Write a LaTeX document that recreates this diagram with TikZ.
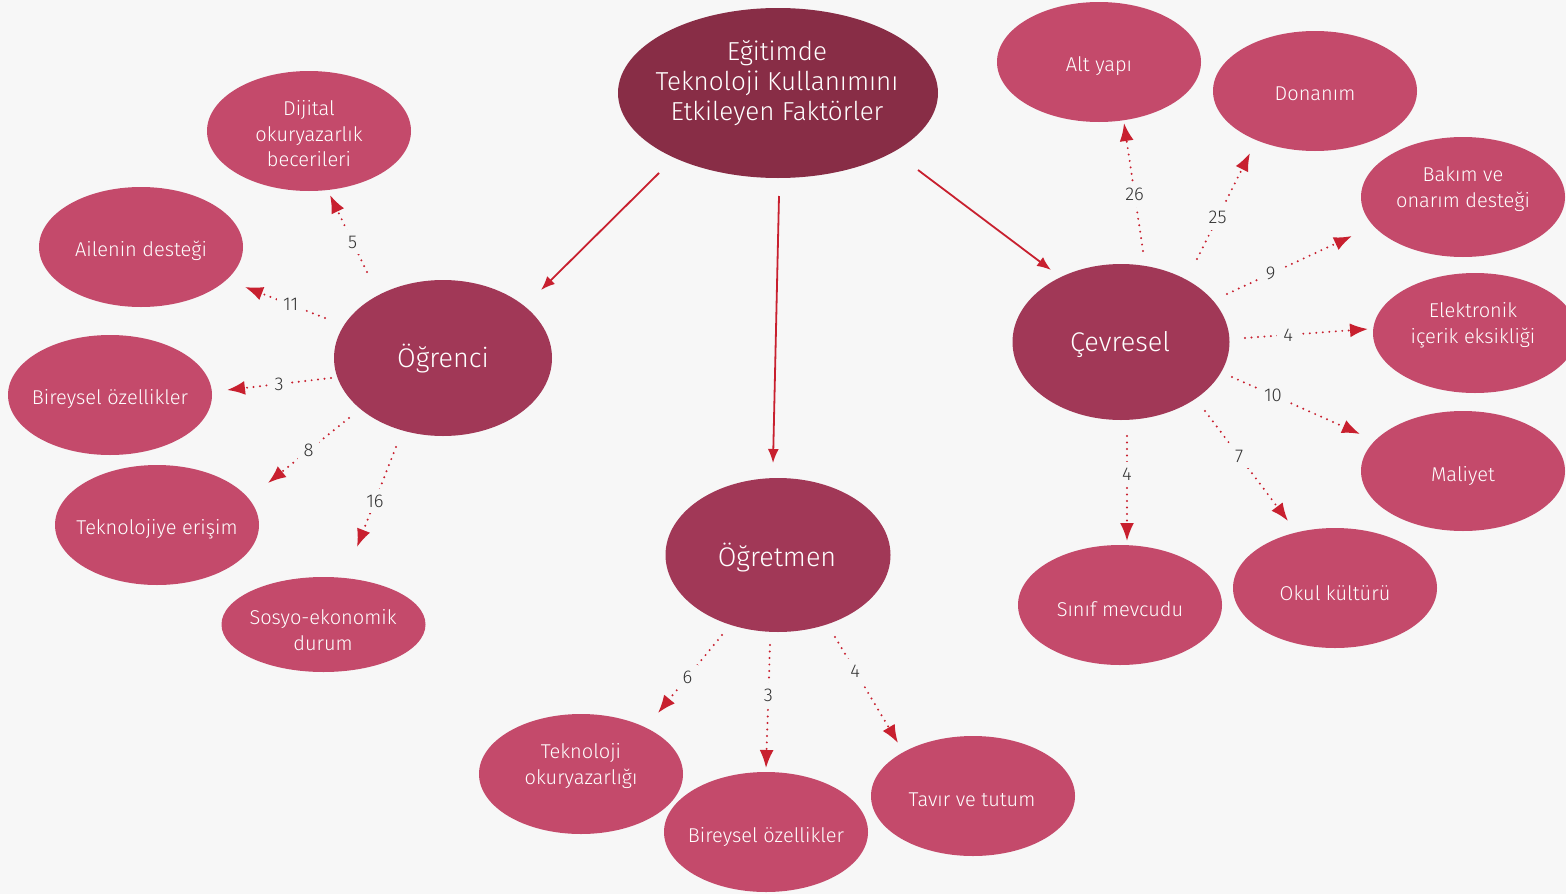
\documentclass[tikz,border=0pt]{standalone}
\usepackage{fontspec}
\setmainfont{Fira Sans Light}
\usetikzlibrary{shapes.geometric,arrows.meta}
\definecolor{bg}{HTML}{F7F7F7}
\definecolor{maincol}{HTML}{882D46}
\definecolor{midcol}{HTML}{A13857}
\definecolor{leafcol}{HTML}{C44A6B}
\definecolor{arr}{HTML}{C8202F}
\definecolor{numcol}{HTML}{333333}
\begin{document}
\begin{tikzpicture}[x=1pt,y=-1pt,
 blob/.style={ellipse, draw=none, inner sep=0pt},
 mainblob/.style={blob, fill=maincol, minimum width=320pt, minimum height=170pt},
 midblob/.style={blob, fill=midcol},
 leaf/.style={blob, fill=leafcol, minimum width=204pt, minimum height=120pt},
 txt/.style={text=white, align=center, inner sep=0pt},
 maintxt/.style={txt, font=\fontsize{26}{30}\selectfont},
 midtxt/.style={txt, font=\fontsize{27}{30}\selectfont},
 leaftxt/.style={txt, font=\fontsize{20}{25.5}\selectfont},
 solidarrow/.style={draw=arr, line width=1.8pt, -{Latex[length=14pt,width=11pt]}},
 dotarrow/.style={draw=arr, line width=2.2pt, line cap=round, dash pattern=on 0pt off 6.5pt, -{Latex[length=18pt,width=14pt]}},
 num/.style={fill=bg, text=numcol, inner sep=6pt, font=\fontsize{18.5}{18.5}\selectfont}]
\fill[bg] (0,0) rectangle (1566,894);
\useasboundingbox (0,0) rectangle (1566,894);

% main
\node[mainblob] (main) at (778,93) {};
\node[maintxt] (mainT) at (777,83) {Eğitimde\\Teknoloji Kullanımını\\Etkileyen Faktörler};
% mid
\node[midblob, minimum width=218pt, minimum height=156pt] (ogr) at (443,358) {};
\node[midtxt] (ogrT) at (443,359) {Öğrenci};
\node[midblob, minimum width=225pt, minimum height=154pt] (ogt) at (778,555) {};
\node[midtxt] (ogtT) at (777,558) {Öğretmen};
\node[midblob, minimum width=217pt, minimum height=156pt] (cev) at (1121,342) {};
\node[midtxt] (cevT) at (1120,345) {Çevresel};

% leaves
\node[leaf] (dij) at (309,131) {};
\node[leaftxt] (dijT) at (309,134) {Dijital\\okuryazarlık\\becerileri};
\node[leaf] (ail) at (141,247) {};
\node[leaftxt] (ailT) at (141,251) {Ailenin desteği};
\node[leaf] (bir1) at (110,395) {};
\node[leaftxt] (bir1T) at (110,399) {Bireysel özellikler};
\node[leaf] (tek) at (157,525) {};
\node[leaftxt] (tekT) at (157,529) {Teknolojiye erişim};
\node[leaf, minimum height=95pt] (sos) at (323.5,624.5) {};
\node[leaftxt] (sosT) at (323,630) {Sosyo-ekonomik\\durum};
\node[leaf] (tok) at (581,774) {};
\node[leaftxt] (tokT) at (581,766) {Teknoloji\\okuryazarlığı};
\node[leaf] (bir2) at (766,832) {};
\node[leaftxt] (bir2T) at (766,837) {Bireysel özellikler};
\node[leaf] (tav) at (973,796) {};
\node[leaftxt] (tavT) at (972,800) {Tavır ve tutum};
\node[leaf] (sin) at (1120,605) {};
\node[leaftxt] (sinT) at (1120,609) {Sınıf mevcudu};
\node[leaf] (oku) at (1335,588) {};
\node[leaftxt] (okuT) at (1335,593) {Okul kültürü};
\node[leaf] (mal) at (1463,471) {};
\node[leaftxt] (malT) at (1463,476) {Maliyet};
\node[leaf] (ele) at (1475,333) {};
\node[leaftxt] (eleT) at (1473,325) {Elektronik\\içerik eksikliği};
\node[leaf] (bak) at (1463,197) {};
\node[leaftxt] (bakT) at (1463,189) {Bakım ve\\onarım desteği};
\node[leaf] (don) at (1315,91) {};
\node[leaftxt] (donT) at (1315,94) {Donanım};
\node[leaf] (alt) at (1099,62) {};
\node[leaftxt] (altT) at (1099,66) {Alt yapı};

% main arrows
\coordinate (m1s) at (659,173); \coordinate (m1e) at (541,290);
\coordinate (m2s) at (779,196); \coordinate (m2e) at (773,463);
\coordinate (m3s) at (918,170); \coordinate (m3e) at (1051,270);
\draw[solidarrow] (m1s) -- (m1e);
\draw[solidarrow] (m2s) -- (m2e);
\draw[solidarrow] (m3s) -- (m3e);

% Ogrenci dotted arrows
\coordinate (a1s) at (367,272); \coordinate (a1e) at (330,195);
\coordinate (a2s) at (325,318); \coordinate (a2e) at (245,287);
\coordinate (a3s) at (331,378); \coordinate (a3e) at (227,390);
\coordinate (a4s) at (349,418); \coordinate (a4e) at (268,483);
\coordinate (a5s) at (396,447); \coordinate (a5e) at (357,547);
\draw[dotarrow] (a1s) -- node[num, pos=0.39] {5} (a1e);
\draw[dotarrow] (a2s) -- node[num, pos=0.43] {11} (a2e);
\draw[dotarrow] (a3s) -- node[num, pos=0.5] {3} (a3e);
\draw[dotarrow] (a4s) -- node[num, pos=0.5] {8} (a4e);
\draw[dotarrow] (a5s) -- node[num, pos=0.54] {16} (a5e);

% Cevresel dotted arrows
\coordinate (c1s) at (1143,251); \coordinate (c1e) at (1124,123);
\coordinate (c2s) at (1197,259); \coordinate (c2e) at (1250,153);
\coordinate (c3s) at (1227,294); \coordinate (c3e) at (1352,236);
\coordinate (c4s) at (1245,338); \coordinate (c4e) at (1368,329);
\coordinate (c5s) at (1232,377); \coordinate (c5e) at (1360,434);
\coordinate (c6s) at (1205,411); \coordinate (c6e) at (1288,521);
\coordinate (c7s) at (1127,436); \coordinate (c7e) at (1127,541);
\draw[dotarrow] (c1s) -- node[num, pos=0.44] {26} (c1e);
\draw[dotarrow] (c2s) -- node[num, pos=0.39] {25} (c2e);
\draw[dotarrow] (c3s) -- node[num, pos=0.35] {9} (c3e);
\draw[dotarrow] (c4s) -- node[num, pos=0.35] {4} (c4e);
\draw[dotarrow] (c5s) -- node[num, pos=0.32] {10} (c5e);
\draw[dotarrow] (c6s) -- node[num, pos=0.41] {7} (c6e);
\draw[dotarrow] (c7s) -- node[num, pos=0.36] {4} (c7e);

% Ogretmen dotted arrows
\coordinate (t1s) at (722,635); \coordinate (t1e) at (658,713);
\coordinate (t2s) at (770,645); \coordinate (t2e) at (766,768);
\coordinate (t3s) at (835,637); \coordinate (t3e) at (898,743);
\draw[dotarrow] (t1s) -- node[num, pos=0.54] {6} (t1e);
\draw[dotarrow] (t2s) -- node[num, pos=0.41] {3} (t2e);
\draw[dotarrow] (t3s) -- node[num, pos=0.32] {4} (t3e);
\end{tikzpicture}
\end{document}
